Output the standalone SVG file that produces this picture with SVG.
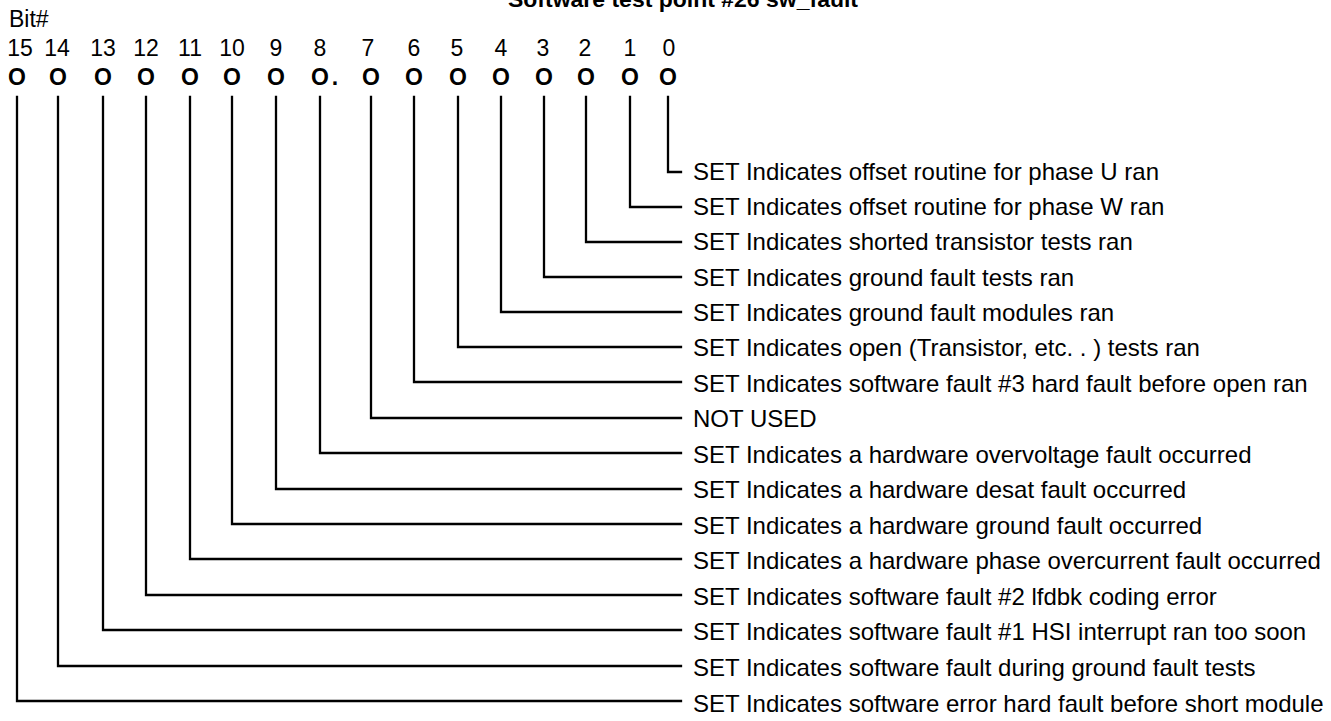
<svg xmlns="http://www.w3.org/2000/svg" width="1331" height="721" viewBox="0 0 1331 721">
<style>
text{font-family:"Liberation Sans",Arial,sans-serif;fill:#000}
.title{font-size:22px;font-weight:bold}
.hdr{font-size:23px}
.num{font-size:23px;text-anchor:middle}
.bit{font-size:23px;font-weight:bold;text-anchor:middle}
.lbl{font-size:24px}
.conn path{fill:none;stroke:#000;stroke-width:2.3;stroke-linejoin:miter;stroke-linecap:square}
</style>
<rect width="1331" height="721" fill="#fff"/>
<text class="title" x="508" y="7" textLength="350" lengthAdjust="spacingAndGlyphs">Software test point #26  sw_fault</text>
<text class="hdr" x="9" y="27">Bit#</text>
<g id="bit15"><text class="num" x="20" y="56">15</text><text class="bit" x="17" y="85">O</text></g>
<g id="bit14"><text class="num" x="57" y="56">14</text><text class="bit" x="58" y="85">O</text></g>
<g id="bit13"><text class="num" x="103" y="56">13</text><text class="bit" x="103" y="85">O</text></g>
<g id="bit12"><text class="num" x="146" y="56">12</text><text class="bit" x="146" y="85">O</text></g>
<g id="bit11"><text class="num" x="190" y="56">11</text><text class="bit" x="190" y="85">O</text></g>
<g id="bit10"><text class="num" x="232" y="56">10</text><text class="bit" x="232" y="85">O</text></g>
<g id="bit9"><text class="num" x="276" y="56">9</text><text class="bit" x="276" y="85">O</text></g>
<g id="bit8"><text class="num" x="320" y="56">8</text><text class="bit" x="320" y="85">O</text><text class="bit" x="335" y="85">.</text></g>
<g id="bit7"><text class="num" x="368" y="56">7</text><text class="bit" x="371" y="85">O</text></g>
<g id="bit6"><text class="num" x="414" y="56">6</text><text class="bit" x="414" y="85">O</text></g>
<g id="bit5"><text class="num" x="457" y="56">5</text><text class="bit" x="458" y="85">O</text></g>
<g id="bit4"><text class="num" x="501" y="56">4</text><text class="bit" x="501" y="85">O</text></g>
<g id="bit3"><text class="num" x="543" y="56">3</text><text class="bit" x="544" y="85">O</text></g>
<g id="bit2"><text class="num" x="585" y="56">2</text><text class="bit" x="586" y="85">O</text></g>
<g id="bit1"><text class="num" x="630" y="56">1</text><text class="bit" x="630" y="85">O</text></g>
<g id="bit0"><text class="num" x="669" y="56">0</text><text class="bit" x="668" y="85">O</text></g>
<g class="conn" id="connectors">
<path d="M668 97V172H681"/>
<path d="M630 97V207H681"/>
<path d="M586 97V242H681"/>
<path d="M544 97V277H681"/>
<path d="M501 97V312H681"/>
<path d="M458 97V347H681"/>
<path d="M414 97V382H681"/>
<path d="M371 97V418H681"/>
<path d="M320 97V453H681"/>
<path d="M276 97V489H681"/>
<path d="M232 97V524H681"/>
<path d="M190 97V559H681"/>
<path d="M146 97V595H681"/>
<path d="M103 97V630H681"/>
<path d="M58 97V666H681"/>
<path d="M17 97V701H681"/>
</g>
<g id="label0"><text class="lbl" x="693" y="180">SET Indicates offset routine for phase U ran</text></g>
<g id="label1"><text class="lbl" x="693" y="215">SET Indicates offset routine for phase W ran</text></g>
<g id="label2"><text class="lbl" x="693" y="250">SET Indicates shorted transistor tests ran</text></g>
<g id="label3"><text class="lbl" x="693" y="286">SET Indicates ground fault tests ran</text></g>
<g id="label4"><text class="lbl" x="693" y="321">SET Indicates ground fault modules ran</text></g>
<g id="label5"><text class="lbl" x="693" y="356">SET Indicates open (Transistor, etc. . ) tests ran</text></g>
<g id="label6"><text class="lbl" x="693" y="392">SET Indicates software fault #3 hard fault before open ran</text></g>
<g id="label7"><text class="lbl" x="693" y="427">NOT USED</text></g>
<g id="label8"><text class="lbl" x="693" y="463">SET Indicates a hardware overvoltage fault occurred</text></g>
<g id="label9"><text class="lbl" x="693" y="498">SET Indicates a hardware desat fault occurred</text></g>
<g id="label10"><text class="lbl" x="693" y="534">SET Indicates a hardware ground fault occurred</text></g>
<g id="label11"><text class="lbl" x="693" y="569">SET Indicates a hardware phase overcurrent fault occurred</text></g>
<g id="label12"><text class="lbl" x="693" y="605">SET Indicates software fault #2 lfdbk coding error</text></g>
<g id="label13"><text class="lbl" x="693" y="640">SET Indicates software fault #1 HSI interrupt ran too soon</text></g>
<g id="label14"><text class="lbl" x="693" y="676">SET Indicates software fault during ground fault tests</text></g>
<g id="label15"><text class="lbl" x="693" y="712">SET Indicates software error hard fault before short module</text></g>
</svg>
